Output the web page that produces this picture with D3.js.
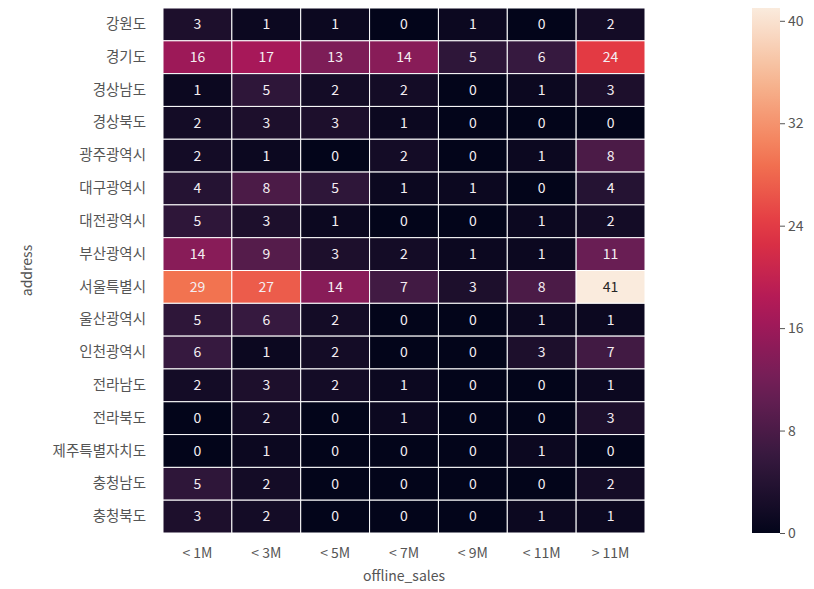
<!DOCTYPE html>
<html>
<head>
<meta charset="utf-8">
<script src="https://cdn.jsdelivr.net/npm/d3@7"></script>
<style>
  body { margin: 0; background: #fff; }
  text { font-family: "Noto Sans CJK KR", "Noto Sans", sans-serif; }
</style>
</head>
<body>
<svg width="814" height="589"></svg>
<script>
const addresses = ['강원도', '경기도', '경상남도', '경상북도', '광주광역시', '대구광역시', '대전광역시',
  '부산광역시', '서울특별시', '울산광역시', '인천광역시', '전라남도', '전라북도', '제주특별자치도', '충청남도', '충청북도'];
const salesBins = ['< 1M', '< 3M', '< 5M', '< 7M', '< 9M', '< 11M', '> 11M'];

// one array per sales bin, in address order
const lt1M  = [3, 16, 1, 2, 2, 4, 5, 14, 29, 5, 6, 2, 0, 0, 5, 3];
const lt3M  = [1, 17, 5, 3, 1, 8, 3, 9, 27, 6, 1, 3, 2, 1, 2, 2];
const lt5M  = [1, 13, 2, 3, 0, 5, 1, 3, 14, 2, 2, 2, 0, 0, 0, 0];
const lt7M  = [0, 14, 2, 1, 2, 1, 0, 2, 7, 0, 0, 1, 1, 0, 0, 0];
const lt9M  = [1, 5, 0, 0, 0, 1, 0, 1, 3, 0, 0, 0, 0, 0, 0, 0];
const lt11M = [0, 6, 1, 0, 1, 0, 1, 1, 8, 1, 3, 0, 0, 1, 0, 1];
const gt11M = [2, 24, 3, 0, 8, 4, 2, 11, 41, 1, 7, 1, 3, 0, 2, 1];
const colorbarTicks = [0, 8, 16, 24, 32, 40];

const series = [lt1M, lt3M, lt5M, lt7M, lt9M, lt11M, gt11M];

const cells = [];
series.forEach((vals, ci) => {
  vals.forEach((v, ri) => cells.push({ col: salesBins[ci], row: addresses[ri], value: v }));
});

const svg = d3.select('svg');
const margin = { top: 8, left: 163, right: 169, bottom: 56 };
const width = +svg.attr('width');
const height = +svg.attr('height');
const innerWidth = width - margin.left - margin.right;
const innerHeight = height - margin.top - margin.bottom;

// seaborn "rocket", piecewise linear through its palette stops
const rocketStops = ['#03051a', '#35193e', '#701f57', '#ad1759', '#e13342', '#f37651', '#f6b48f', '#faebdd'];
const rocket = d3.piecewise(d3.interpolateRgb, rocketStops);
const vmax = d3.max(cells, d => d.value);
const color = d3.scaleSequential(rocket).domain([0, vmax]);

const xScale = d3.scaleBand().domain(salesBins).range([0, innerWidth]);
const yScale = d3.scaleBand().domain(addresses).range([0, innerHeight]);

const g = svg.append('g').attr('transform', `translate(${margin.left},${margin.top})`);

g.selectAll('rect.cell').data(cells)
  .enter().append('rect')
    .attr('class', 'cell')
    .attr('x', d => xScale(d.col))
    .attr('y', d => yScale(d.row))
    .attr('width', xScale.bandwidth())
    .attr('height', yScale.bandwidth())
    .attr('fill', d => color(d.value))
    .attr('stroke', '#fff')
    .attr('stroke-width', 1);

const textColor = v => {
  const c = d3.rgb(color(v));
  const lin = x => { x /= 255; return x <= 0.03928 ? x / 12.92 : Math.pow((x + 0.055) / 1.055, 2.4); };
  const lum = 0.2126 * lin(c.r) + 0.7152 * lin(c.g) + 0.0722 * lin(c.b);
  return lum > 0.408 ? '#262626' : '#f4eef2';
};

g.selectAll('text.annot').data(cells)
  .enter().append('text')
    .attr('class', 'annot')
    .attr('x', d => xScale(d.col) + xScale.bandwidth() / 2)
    .attr('y', d => yScale(d.row) + yScale.bandwidth() / 2)
    .attr('dy', '0.35em')
    .attr('text-anchor', 'middle')
    .attr('font-size', 14)
    .attr('fill', d => textColor(d.value))
    .text(d => d.value);

// axes
const xAxisG = g.append('g')
  .attr('transform', `translate(0,${innerHeight})`)
  .call(d3.axisBottom(xScale).tickSize(0).tickPadding(15));
xAxisG.select('.domain').remove();
xAxisG.selectAll('text').attr('font-size', 14).attr('fill', '#555');

const yAxisG = g.append('g')
  .call(d3.axisLeft(yScale).tickSize(0).tickPadding(17));
yAxisG.select('.domain').remove();
yAxisG.selectAll('text').attr('font-size', 14.5).attr('fill', '#555');

g.append('text')
  .attr('x', innerWidth / 2)
  .attr('y', innerHeight + 48)
  .attr('text-anchor', 'middle')
  .attr('font-size', 14)
  .attr('fill', '#555')
  .text('offline_sales');

g.append('text')
  .attr('transform', `translate(${-131},${innerHeight / 2}) rotate(-90)`)
  .attr('text-anchor', 'middle')
  .attr('font-size', 14)
  .attr('fill', '#555')
  .text('address');

// colorbar
const cbX = 752, cbW = 28;
const cbScale = d3.scaleLinear().domain([0, vmax]).range([margin.top + innerHeight, margin.top]);
const defs = svg.append('defs');
const grad = defs.append('linearGradient')
  .attr('id', 'cbgrad').attr('x1', 0).attr('y1', 1).attr('x2', 0).attr('y2', 0);
d3.range(0, 1.0001, 0.05).forEach(t => {
  grad.append('stop').attr('offset', t).attr('stop-color', rocket(t));
});
svg.append('rect')
  .attr('x', cbX).attr('y', margin.top)
  .attr('width', cbW).attr('height', innerHeight)
  .attr('fill', 'url(#cbgrad)');

const cbAxis = svg.append('g')
  .attr('transform', `translate(${cbX + cbW},0)`)
  .call(d3.axisRight(cbScale).tickValues(colorbarTicks).tickSize(5).tickPadding(3));
cbAxis.select('.domain').remove();
cbAxis.selectAll('line').attr('stroke', '#555');
cbAxis.selectAll('text').attr('font-size', 14).attr('fill', '#555');
</script>
</body>
</html>
